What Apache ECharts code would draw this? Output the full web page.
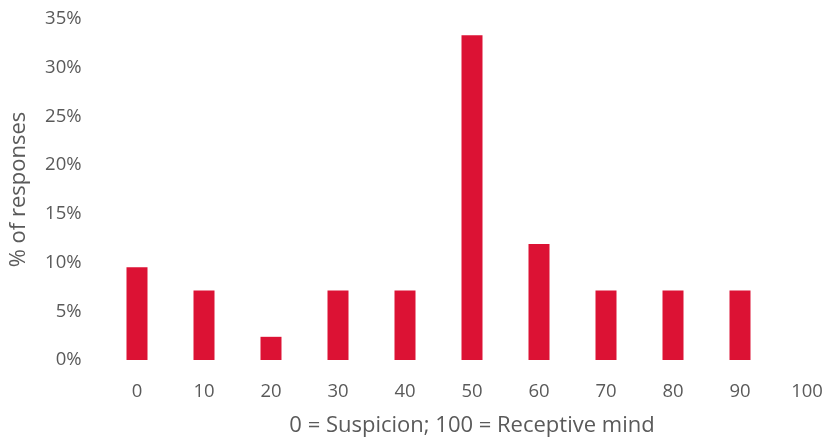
<!DOCTYPE html>
<html>
<head>
<meta charset="utf-8">
<script src="https://cdn.jsdelivr.net/npm/echarts@6/dist/echarts.min.js"></script>
<style>
  html, body { margin: 0; padding: 0; background: #ffffff; }
  #chart { width: 827px; height: 445px; }
</style>
</head>
<body>
<div id="chart"></div>
<script>
// Score categories on the suspicion–receptive scale
const categories = ['0', '10', '20', '30', '40', '50', '60', '70', '80', '90', '100'];
// Share of responses for each score (%)
const responseShare = [9.52, 7.14, 2.38, 7.14, 7.14, 33.33, 11.90, 7.14, 7.14, 7.14, 0];
// Y axis range and step (%)
const yMin = 0;
const yMax = 35;
const yStep = 5;

const textColor = '#5a5a5a';
const fontFamily = '"Open Sans", "DejaVu Sans", sans-serif';

const chart = echarts.init(document.getElementById('chart'), null, { renderer: 'canvas' });
chart.setOption({
  animation: false,
  backgroundColor: '#ffffff',
  // plot area runs slightly past the right edge of the canvas
  grid: { left: 103.5, width: 737, top: 19, height: 341, containLabel: false, outerBoundsMode: 'none' },
  xAxis: {
    type: 'category',
    data: categories,
    axisLine: { show: false },
    axisTick: { show: false },
    axisLabel: { color: textColor, fontSize: 18.5, fontFamily: fontFamily, margin: 22 },
    name: '0 = Suspicion; 100 = Receptive mind',
    nameLocation: 'middle',
    nameGap: 55,
    nameTextStyle: { color: textColor, fontSize: 22, fontFamily: fontFamily }
  },
  yAxis: {
    type: 'value',
    min: yMin,
    max: yMax,
    interval: yStep,
    axisLine: { show: false },
    axisTick: { show: false },
    splitLine: { show: false },
    axisLabel: { color: textColor, fontSize: 18.5, fontFamily: fontFamily, margin: 22, formatter: v => v + '%' },
    name: '% of responses',
    nameLocation: 'middle',
    nameGap: 74,
    nameRotate: 90,
    nameTextStyle: { color: textColor, fontSize: 22, fontFamily: fontFamily }
  },
  series: [{
    type: 'bar',
    data: responseShare,
    barWidth: 21,
    itemStyle: { color: '#dc1234' }
  }]
});
</script>
</body>
</html>
